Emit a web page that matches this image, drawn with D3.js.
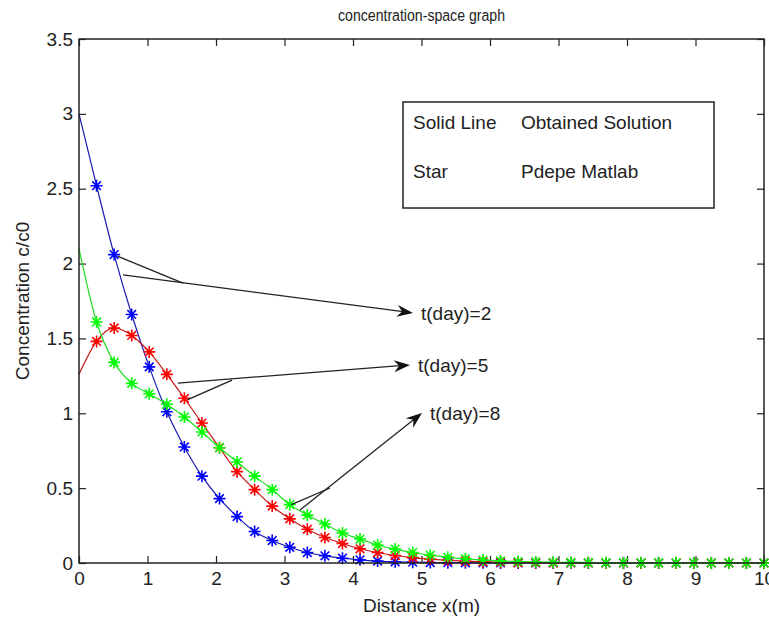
<!DOCTYPE html>
<html>
<head>
<meta charset="utf-8">
<script src="https://cdn.jsdelivr.net/npm/d3@7"></script>
<style>
  body { margin: 0; background: #fff; }
  svg { display: block; font-family: "Liberation Sans", Arial, sans-serif; }
</style>
</head>
<body>
<div id="chart"></div>
<script>
// 40 points from 0 to 10 (pdepe mesh)
var xs = d3.range(40).map(i => i * 10 / 39);

var day2 = [3.0, 2.52, 2.06, 1.66, 1.31, 1.01, 0.775, 0.58, 0.43, 0.31,
    0.21, 0.15, 0.105, 0.07, 0.048, 0.032, 0.021, 0.013, 0.008, 0.005,
    0.003, 0.002, 0.001, 0.001, 0, 0, 0, 0, 0, 0,
    0, 0, 0, 0, 0, 0, 0, 0, 0, 0];
var day5 = [1.26, 1.48, 1.57, 1.52, 1.41, 1.26, 1.10, 0.935, 0.77, 0.61,
    0.49, 0.38, 0.295, 0.225, 0.17, 0.13, 0.095, 0.07, 0.05, 0.036,
    0.026, 0.018, 0.012, 0.008, 0.005, 0.003, 0.002, 0.001, 0.001, 0,
    0, 0, 0, 0, 0, 0, 0, 0, 0, 0];
var day8 = [2.1, 1.61, 1.34, 1.20, 1.13, 1.06, 0.975, 0.875, 0.77, 0.675,
    0.58, 0.49, 0.39, 0.32, 0.26, 0.20, 0.16, 0.12, 0.093, 0.07,
    0.052, 0.038, 0.028, 0.02, 0.014, 0.01, 0.007, 0.005, 0.004, 0.003,
    0.002, 0.002, 0.001, 0.001, 0.001, 0, 0, 0, 0, 0];

var seriesValues = [day2, day5, day8];
var seriesColors = ['#0000ff', '#ff0000', '#00ff00'];
var lineColors = ['#1a1ab0', '#c81818', '#22dd22'];

var xTicks = d3.range(0, 11, 1);
var yTicks = d3.range(0, 3.51, 0.5);

// annotation arrows (data units)
var annoLabels = ['t(day)=2', 't(day)=5', 't(day)=8'];
var annoTail = [[0.642, 1.924], [1.445, 1.202], [3.226, 0.354]];
var annoHead = [[4.876, 1.670], [4.832, 1.323], [5.007, 1.002]];
var annoFrom = [[0.56, 2.05], [1.58, 1.09], [3.10, 0.39]];
var annoJoin = [[1.518, 1.870], [2.234, 1.222], [3.664, 0.501]];

var width = 769;
var height = 619;
var margin = { top: 39, right: 5, bottom: 56, left: 79 };
var w = width - margin.left - margin.right;
var h = height - margin.top - margin.bottom;

var svg = d3.select('#chart').append('svg')
    .attr('width', width)
    .attr('height', height);

svg.append('rect').attr('width', width).attr('height', height).attr('fill', '#fff');

var g = svg.append('g')
    .attr('transform', 'translate(' + margin.left + ',' + margin.top + ')');

var x = d3.scaleLinear().domain([0, 10]).range([0, w]);
var y = d3.scaleLinear().domain([0, 3.5]).range([h, 0]);

// axes, ticks inward like matlab
function styleAxis(sel) {
    sel.select('.domain').remove();
    sel.selectAll('line').attr('stroke', '#222').attr('stroke-width', 1.2);
    sel.selectAll('text').attr('fill', '#222').style('font-size', '19px');
}

g.append('g')
    .attr('transform', 'translate(0,' + h + ')')
    .call(d3.axisBottom(x).tickValues(xTicks).tickSize(-7).tickPadding(9).tickFormat(d3.format('d')))
    .call(styleAxis);

g.append('g')
    .call(d3.axisTop(x).tickValues(xTicks).tickSize(-7).tickFormat(''))
    .call(styleAxis);

g.append('g')
    .call(d3.axisLeft(y).tickValues(yTicks).tickSize(-7).tickPadding(6).tickFormat(d3.format('')))
    .call(styleAxis);

g.append('g')
    .attr('transform', 'translate(' + w + ',0)')
    .call(d3.axisRight(y).tickValues(yTicks).tickSize(-7).tickFormat(''))
    .call(styleAxis);

// curves
var line = d3.line()
    .x((d, i) => x(xs[i]))
    .y(d => y(d))
    .curve(d3.curveMonotoneX);

var starPath = 'M-6,0L6,0M0,-6L0,6M-4.3,-4.3L4.3,4.3M-4.3,4.3L4.3,-4.3';

seriesValues.forEach(function (vals, k) {
    g.append('path')
        .datum(vals)
        .attr('fill', 'none')
        .attr('stroke', lineColors[k])
        .attr('stroke-width', 1.2)
        .attr('d', line);

    g.append('g').selectAll('path')
        .data(vals.slice(1))
        .enter().append('path')
        .attr('transform', (d, i) => 'translate(' + x(xs[i + 1]) + ',' + y(d) + ')')
        .attr('d', starPath)
        .attr('stroke', seriesColors[k])
        .attr('stroke-width', 1.6)
        .attr('fill', 'none');
});

// box
g.append('rect')
    .attr('width', w).attr('height', h)
    .attr('fill', 'none').attr('stroke', '#222').attr('stroke-width', 1.5);

// annotations
var anno = g.append('g').attr('stroke', '#222').attr('stroke-width', 1.3);
annoLabels.forEach(function (lab, k) {
    var t = annoTail[k], hd = annoHead[k], f = annoFrom[k], j = annoJoin[k];
    var x1 = x(t[0]), y1 = y(t[1]), x2 = x(hd[0]), y2 = y(hd[1]);
    anno.append('line').attr('x1', x(f[0])).attr('y1', y(f[1])).attr('x2', x(j[0])).attr('y2', y(j[1]));
    var ang = Math.atan2(y2 - y1, x2 - x1) * 180 / Math.PI;
    anno.append('line').attr('x1', x1).attr('y1', y1).attr('x2', x2 - 10 * Math.cos(ang * Math.PI / 180)).attr('y2', y2 - 10 * Math.sin(ang * Math.PI / 180));
    anno.append('path')
        .attr('d', 'M0,0L-16,-6L-11,0L-16,6Z')
        .attr('transform', 'translate(' + x2 + ',' + y2 + ') rotate(' + ang + ')')
        .attr('fill', '#111').attr('stroke', 'none');
    g.append('text')
        .attr('x', x2 + 8).attr('y', y2).attr('dy', '0.35em')
        .attr('fill', '#222').style('font-size', '19px')
        .text(lab);
});

// legend box
var lg = g.append('g').attr('transform', 'translate(324,63)');
lg.append('rect').attr('width', 311).attr('height', 106)
    .attr('fill', '#fff').attr('stroke', '#222').attr('stroke-width', 1.5);
var legRows = [['Solid Line', 'Obtained Solution'], ['Star', 'Pdepe Matlab']];
legRows.forEach(function (r, i) {
    lg.append('text').attr('x', 10).attr('y', 20 + i * 49).attr('dy', '0.35em')
        .attr('fill', '#222').style('font-size', '19px').text(r[0]);
    lg.append('text').attr('x', 118).attr('y', 20 + i * 49).attr('dy', '0.35em')
        .attr('fill', '#222').style('font-size', '19px').text(r[1]);
});

// title and labels
svg.append('text')
    .attr('transform', 'translate(' + (margin.left + w / 2) + ',15) scale(0.83,1)')
    .attr('dy', '0.35em')
    .attr('text-anchor', 'middle').attr('fill', '#222').style('font-size', '17px')
    .text('concentration-space graph');

svg.append('text')
    .attr('x', margin.left + w / 2).attr('y', 605).attr('dy', '0.35em')
    .attr('text-anchor', 'middle').attr('fill', '#222').style('font-size', '19px')
    .text('Distance x(m)');

svg.append('text')
    .attr('transform', 'translate(22,' + (margin.top + h / 2) + ') rotate(-90)')
    .attr('dy', '0.35em')
    .attr('text-anchor', 'middle').attr('fill', '#222').style('font-size', '19px')
    .text('Concentration c/c0');
</script>
</body>
</html>
